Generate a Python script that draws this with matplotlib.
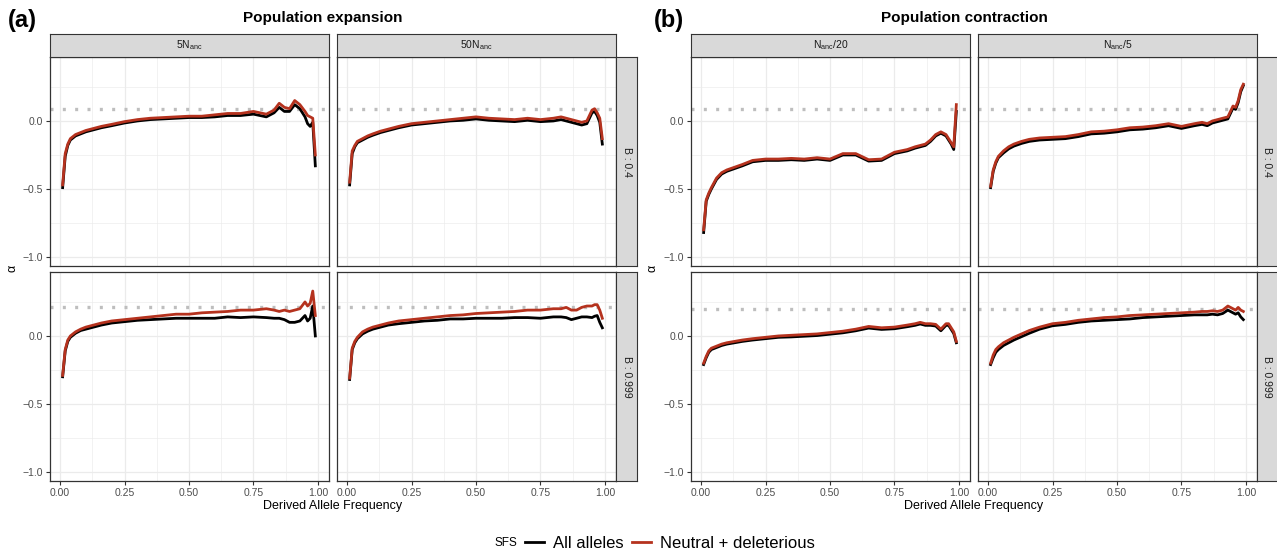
import numpy as np
import matplotlib
matplotlib.use('Agg')
import matplotlib.pyplot as plt
from matplotlib.lines import Line2D

plt.rcParams['font.family'] = ['Liberation Sans', 'DejaVu Sans']

# derived allele frequency (shared x for every facet)
freq = [0.01, 0.02, 0.03, 0.04, 0.06, 0.08, 0.10, 0.13, 0.16, 0.20, 0.25, 0.30,
        0.35, 0.40, 0.45, 0.50, 0.55, 0.60, 0.65, 0.70, 0.75, 0.80, 0.83, 0.85,
        0.87, 0.89, 0.91, 0.93, 0.95, 0.96, 0.97, 0.98, 0.99]

# (a) expansion, 5N_anc
exp5_b04_all = [-0.49, -0.26, -0.18, -0.14, -0.11, -0.095, -0.08, -0.065, -0.05, -0.035, -0.015, 0.0,
                0.01, 0.015, 0.02, 0.025, 0.025, 0.03, 0.04, 0.04, 0.05, 0.03, 0.06, 0.10,
                0.07, 0.07, 0.12, 0.09, 0.03, -0.02, -0.04, -0.01, -0.33]
exp5_b04_neu = [-0.47, -0.24, -0.17, -0.13, -0.10, -0.085, -0.07, -0.055, -0.04, -0.025, -0.005, 0.01,
                0.02, 0.025, 0.03, 0.035, 0.035, 0.045, 0.055, 0.055, 0.07, 0.05, 0.08, 0.13,
                0.10, 0.09, 0.15, 0.12, 0.07, 0.04, 0.03, 0.02, -0.25]
exp5_b999_all = [-0.30, -0.11, -0.04, -0.01, 0.02, 0.04, 0.05, 0.065, 0.08, 0.095, 0.105, 0.115,
                 0.12, 0.125, 0.13, 0.13, 0.13, 0.13, 0.14, 0.135, 0.14, 0.135, 0.13, 0.13,
                 0.12, 0.10, 0.10, 0.11, 0.15, 0.11, 0.13, 0.22, 0.0]
exp5_b999_neu = [-0.29, -0.10, -0.03, 0.0, 0.03, 0.05, 0.065, 0.08, 0.095, 0.11, 0.12, 0.13,
                 0.14, 0.15, 0.16, 0.16, 0.17, 0.175, 0.18, 0.19, 0.19, 0.20, 0.19, 0.18,
                 0.19, 0.18, 0.19, 0.20, 0.25, 0.22, 0.24, 0.33, 0.15]

# (a) expansion, 50N_anc
exp50_b04_all = [-0.47, -0.24, -0.19, -0.16, -0.14, -0.12, -0.105, -0.085, -0.07, -0.05, -0.03, -0.02,
                 -0.01, 0.0, 0.005, 0.015, 0.005, 0.0, -0.005, 0.005, -0.005, 0.0, 0.01, 0.0,
                 -0.01, -0.02, -0.03, -0.02, 0.06, 0.07, 0.04, -0.01, -0.17]
exp50_b04_neu = [-0.45, -0.22, -0.18, -0.15, -0.13, -0.11, -0.095, -0.075, -0.06, -0.04, -0.02, -0.01,
                 0.0, 0.01, 0.02, 0.03, 0.02, 0.015, 0.01, 0.02, 0.01, 0.02, 0.03, 0.02,
                 0.01, 0.0, -0.01, 0.0, 0.08, 0.09, 0.06, 0.02, -0.13]
exp50_b999_all = [-0.32, -0.10, -0.05, -0.02, 0.015, 0.035, 0.05, 0.065, 0.08, 0.09, 0.10, 0.11,
                  0.115, 0.125, 0.125, 0.13, 0.13, 0.13, 0.135, 0.135, 0.13, 0.14, 0.14, 0.135,
                  0.12, 0.13, 0.14, 0.14, 0.135, 0.145, 0.15, 0.10, 0.06]
exp50_b999_neu = [-0.31, -0.09, -0.04, -0.01, 0.03, 0.05, 0.065, 0.08, 0.095, 0.11, 0.12, 0.13,
                  0.14, 0.15, 0.155, 0.165, 0.17, 0.175, 0.18, 0.19, 0.19, 0.20, 0.20, 0.21,
                  0.19, 0.19, 0.21, 0.22, 0.22, 0.23, 0.23, 0.19, 0.13]

# (b) contraction, N_anc/20
con20_b04_all = [-0.82, -0.59, -0.54, -0.50, -0.43, -0.39, -0.37, -0.35, -0.33, -0.30, -0.29, -0.29,
                 -0.285, -0.29, -0.28, -0.29, -0.25, -0.25, -0.295, -0.29, -0.24, -0.22, -0.20, -0.19,
                 -0.18, -0.15, -0.11, -0.09, -0.11, -0.14, -0.17, -0.21, 0.07]
con20_b04_neu = [-0.80, -0.58, -0.53, -0.49, -0.42, -0.38, -0.36, -0.34, -0.32, -0.29, -0.28, -0.28,
                 -0.275, -0.28, -0.27, -0.28, -0.24, -0.24, -0.285, -0.28, -0.23, -0.21, -0.19, -0.18,
                 -0.17, -0.14, -0.10, -0.08, -0.10, -0.13, -0.16, -0.19, 0.12]
con20_b999_all = [-0.21, -0.16, -0.12, -0.10, -0.085, -0.07, -0.06, -0.05, -0.04, -0.03, -0.02, -0.01,
                  -0.007, -0.002, 0.003, 0.013, 0.023, 0.038, 0.058, 0.048, 0.053, 0.068, 0.078, 0.088,
                  0.078, 0.078, 0.073, 0.038, 0.078, 0.078, 0.048, 0.018, -0.05]
con20_b999_neu = [-0.20, -0.15, -0.11, -0.09, -0.075, -0.06, -0.05, -0.04, -0.03, -0.02, -0.01, 0.0,
                  0.005, 0.01, 0.015, 0.025, 0.035, 0.05, 0.07, 0.06, 0.065, 0.08, 0.09, 0.10,
                  0.09, 0.09, 0.085, 0.05, 0.09, 0.09, 0.06, 0.03, -0.04]

# (b) contraction, N_anc/5
con5_b04_all = [-0.49, -0.37, -0.31, -0.27, -0.235, -0.205, -0.185, -0.165, -0.15, -0.14, -0.135, -0.13,
                -0.115, -0.095, -0.09, -0.08, -0.065, -0.06, -0.05, -0.035, -0.055, -0.035, -0.025, -0.035,
                -0.015, -0.005, 0.005, 0.015, 0.095, 0.085, 0.135, 0.215, 0.26]
con5_b04_neu = [-0.48, -0.36, -0.30, -0.26, -0.22, -0.19, -0.17, -0.15, -0.135, -0.125, -0.12, -0.115,
                -0.10, -0.08, -0.075, -0.065, -0.05, -0.045, -0.035, -0.02, -0.04, -0.02, -0.01, -0.02,
                0.0, 0.01, 0.02, 0.03, 0.11, 0.10, 0.15, 0.23, 0.27]
con5_b999_all = [-0.21, -0.16, -0.12, -0.10, -0.07, -0.05, -0.03, -0.005, 0.02, 0.05, 0.075, 0.085,
                 0.10, 0.11, 0.115, 0.12, 0.125, 0.135, 0.14, 0.145, 0.15, 0.155, 0.155, 0.155,
                 0.16, 0.155, 0.165, 0.19, 0.17, 0.16, 0.17, 0.14, 0.12]
con5_b999_neu = [-0.20, -0.14, -0.10, -0.08, -0.05, -0.03, -0.01, 0.015, 0.04, 0.065, 0.09, 0.10,
                 0.115, 0.125, 0.135, 0.14, 0.15, 0.155, 0.16, 0.165, 0.17, 0.175, 0.18, 0.18,
                 0.185, 0.18, 0.19, 0.22, 0.20, 0.19, 0.21, 0.19, 0.18]

# true alpha (dotted reference lines), per panel row
true_alpha_a = [0.088, 0.213]
true_alpha_b = [0.088, 0.199]

col_labels_a = ['5N$_\\mathregular{anc}$', '50N$_\\mathregular{anc}$']
col_labels_b = ['N$_\\mathregular{anc}$/20', 'N$_\\mathregular{anc}$/5']
row_labels = ['B : 0.4', 'B : 0.999']

panels = [
    dict(dx=0, tag='(a)', tagx=22, title='Population expansion', cols=col_labels_a, hl=true_alpha_a,
         series=[[(exp5_b04_all, exp5_b04_neu), (exp50_b04_all, exp50_b04_neu)],
                 [(exp5_b999_all, exp5_b999_neu), (exp50_b999_all, exp50_b999_neu)]]),
    dict(dx=641, tag='(b)', tagx=669, title='Population contraction', cols=col_labels_b, hl=true_alpha_b,
         series=[[(con20_b04_all, con20_b04_neu), (con5_b04_all, con5_b04_neu)],
                 [(con20_b999_all, con20_b999_neu), (con5_b999_all, con5_b999_neu)]]),
]

RED = '#B5321E'
BORDER = '#333333'
W, H = 1277, 554
fig = plt.figure(figsize=(W / 100, H / 100), dpi=100)


def px_axes(l, t, r, b):
    return fig.add_axes([l / W, 1 - b / H, (r - l) / W, (b - t) / H])


def strip(ax, label, rot=0):
    ax.set_facecolor('#D9D9D9')
    ax.set_xticks([])
    ax.set_yticks([])
    for s in ax.spines.values():
        s.set_color(BORDER)
        s.set_linewidth(0.8)
    ax.text(0.5, 0.5, label, transform=ax.transAxes, ha='center', va='center',
            rotation=rot, color='#1A1A1A', fontsize=7.5)


cols_px = [(50, 329), (337, 616)]
rows_px = [(57, 266), (272, 481)]

for p in panels:
    dx = p['dx']
    for i, (t, b) in enumerate(rows_px):
        for j, (l, r) in enumerate(cols_px):
            ax = px_axes(l + dx, t, r + dx, b)
            ax.set_xlim(-0.039, 1.043)
            ax.set_ylim(-1.066, 0.47)
            ax.set_xticks([0, 0.25, 0.5, 0.75, 1.0])
            ax.set_xticklabels(['0.00', '0.25', '0.50', '0.75', '1.00'])
            ax.set_xticks([0.125, 0.375, 0.625, 0.875], minor=True)
            ax.set_yticks([-1.0, -0.5, 0.0])
            ax.set_yticklabels(['\u22121.0', '\u22120.5', '0.0'])
            ax.set_yticks([-0.75, -0.25, 0.25], minor=True)
            ax.grid(which='major', color='#EBEBEB', lw=0.9)
            ax.grid(which='minor', color='#EBEBEB', lw=0.45)
            ax.set_axisbelow(True)
            ax.tick_params(which='minor', length=0)
            ax.tick_params(which='major', length=3, width=0.8, color=BORDER,
                           labelcolor='#4D4D4D', labelsize=7.5, pad=2)
            if j == 1:
                ax.tick_params(left=False, labelleft=False)
            if i == 0:
                ax.tick_params(bottom=False, labelbottom=False)
            for s in ax.spines.values():
                s.set_color(BORDER)
                s.set_linewidth(0.9)
            ax.axhline(p['hl'][i], color='#BEBEBE', lw=2.4, ls=(0, (0.9, 2.8)), zorder=1.5)
            y_all, y_neu = p['series'][i][j]
            ax.plot(freq, y_all, color='black', lw=2.0, zorder=2)
            ax.plot(freq, y_neu, color=RED, lw=2.0, zorder=3)
            if i == 0:
                strip(px_axes(l + dx, 34, r + dx, 57), p['cols'][j])
        strip(px_axes(616 + dx, t, 637 + dx, b), row_labels[i], rot=270)

    fig.text((323 + dx) / W, 1 - 18 / H, p['title'], ha='center', va='center',
             fontsize=11, fontweight='bold')
    fig.text(p['tagx'] / W, 1 - 21 / H, p['tag'], ha='center', va='center',
             fontsize=17, fontweight='bold')
    fig.text((333 + dx) / W, 1 - 506 / H, 'Derived Allele Frequency', ha='center',
             va='center', fontsize=9)
    fig.text((12 + dx) / W, 1 - 268 / H, '\u03b1', ha='center', va='center',
             rotation=90, fontsize=9)

# legend
fig.text(506 / W, 1 - 543 / H, 'SFS', ha='center', va='center', fontsize=8.5)
handles = [Line2D([], [], color='black', lw=2.0), Line2D([], [], color=RED, lw=2.0)]
fig.legend(handles, ['All alleles', 'Neutral + deleterious'], ncol=2, loc='center',
           bbox_to_anchor=(670 / W, 1 - 543 / H), frameon=False, fontsize=12,
           handlelength=1.1, handletextpad=0.55, columnspacing=0.55, borderpad=0)

fig.savefig('out.png', dpi=100)
